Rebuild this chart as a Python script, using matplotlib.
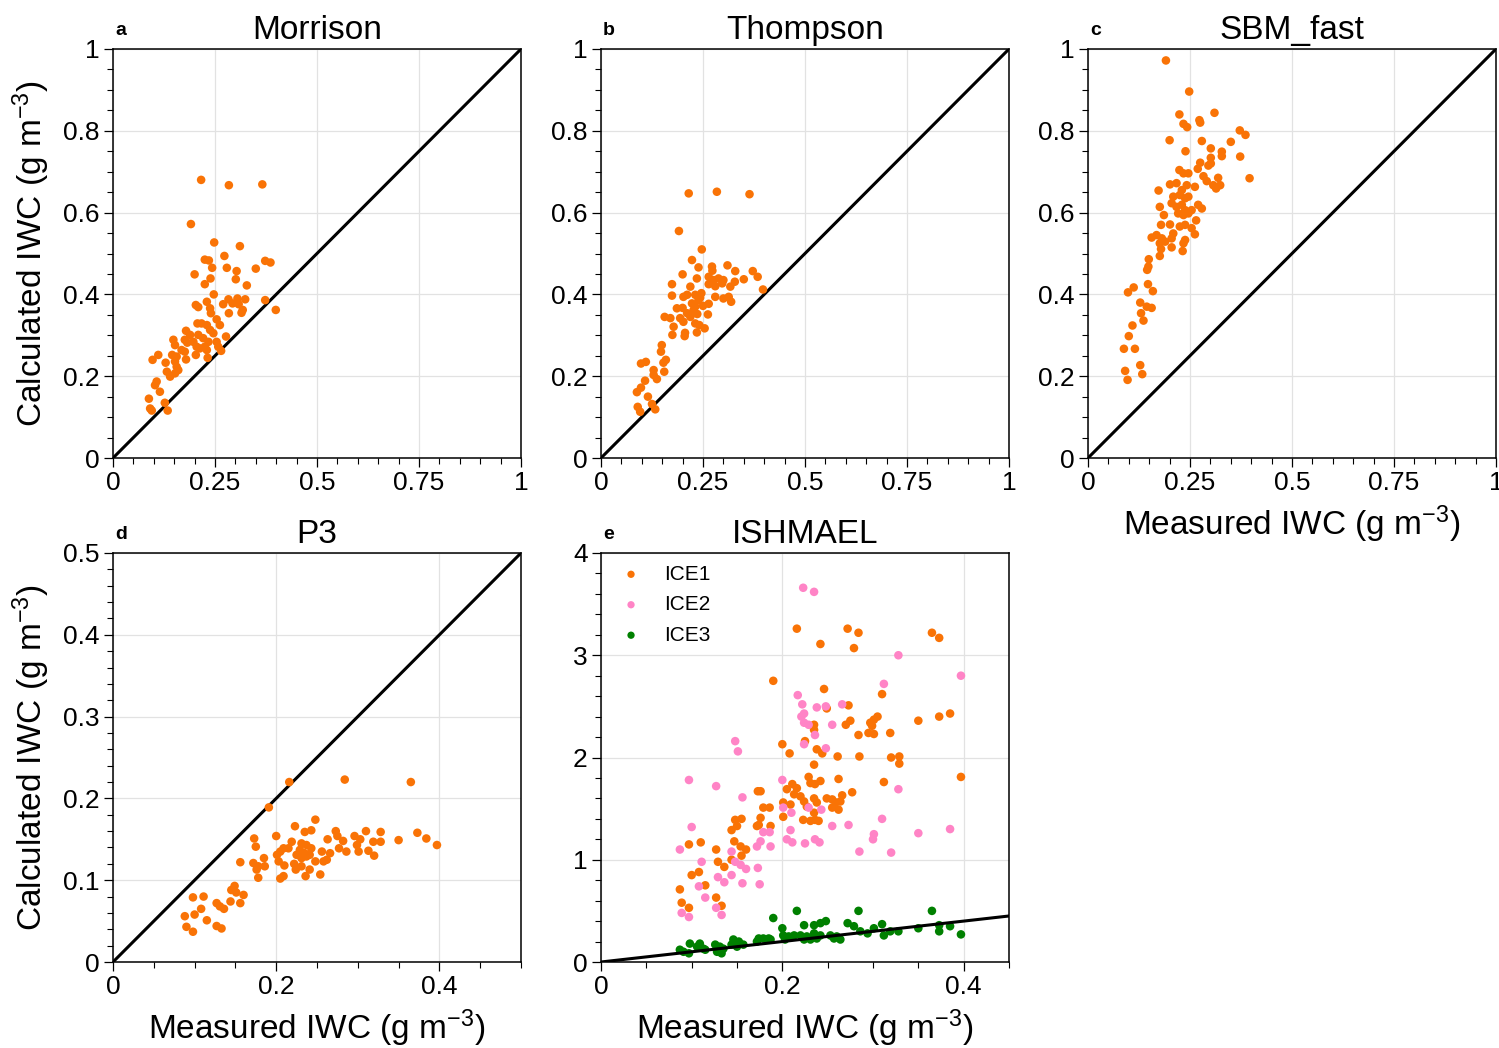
"""
Calculated vs measured ice water content for five microphysics schemes
"""
import matplotlib
matplotlib.use("Agg")
import matplotlib.pyplot as plt
from matplotlib.ticker import MultipleLocator, FuncFormatter

plt.rcParams['font.family'] = ['Liberation Sans', 'DejaVu Sans']
plt.rcParams['mathtext.fontset'] = 'custom'
plt.rcParams['mathtext.rm'] = 'Liberation Sans'
plt.rcParams['mathtext.it'] = 'Liberation Sans:italic'

ORANGE = '#f97306'
PINK = '#ff84c6'
GREEN = '#008000'

# --- Morrison ---
mor_x = [0.216, 0.284, 0.366, 0.191, 0.248, 0.311, 0.273, 0.225, 0.235, 0.243,
         0.279, 0.303, 0.350, 0.373, 0.386, 0.200, 0.239, 0.225, 0.301, 0.328,
         0.247, 0.203, 0.209, 0.230, 0.270, 0.283, 0.305, 0.324, 0.293, 0.308,
         0.284, 0.315, 0.373, 0.399, 0.238, 0.240, 0.254, 0.262, 0.207, 0.217,
         0.230, 0.238, 0.246, 0.179, 0.189, 0.209, 0.221, 0.277, 0.254, 0.258,
         0.234, 0.225, 0.230, 0.148, 0.152, 0.176, 0.182, 0.197, 0.205, 0.213,
         0.168, 0.176, 0.145, 0.156, 0.203, 0.179, 0.265, 0.232, 0.097, 0.111,
         0.129, 0.152, 0.156, 0.160, 0.152, 0.132, 0.140, 0.103, 0.107, 0.115,
         0.088, 0.091, 0.095, 0.127, 0.134, 0.318]
mor_y = [0.680, 0.667, 0.669, 0.572, 0.527, 0.518, 0.494, 0.485, 0.483, 0.465,
         0.465, 0.457, 0.463, 0.482, 0.478, 0.449, 0.439, 0.425, 0.437, 0.422,
         0.400, 0.374, 0.369, 0.382, 0.376, 0.388, 0.390, 0.388, 0.378, 0.376,
         0.354, 0.355, 0.386, 0.362, 0.366, 0.354, 0.339, 0.325, 0.329, 0.329,
         0.325, 0.313, 0.305, 0.311, 0.301, 0.301, 0.293, 0.297, 0.284, 0.272,
         0.284, 0.272, 0.264, 0.289, 0.276, 0.289, 0.282, 0.284, 0.272, 0.268,
         0.264, 0.260, 0.252, 0.248, 0.252, 0.241, 0.262, 0.245, 0.240, 0.252,
         0.233, 0.236, 0.223, 0.215, 0.207, 0.211, 0.199, 0.178, 0.187, 0.162,
         0.145, 0.121, 0.116, 0.135, 0.116, 0.362]

# --- Thompson ---
tho_x = [0.215, 0.284, 0.364, 0.191, 0.247, 0.223, 0.239, 0.272, 0.273, 0.310,
         0.329, 0.372, 0.384, 0.200, 0.235, 0.264, 0.276, 0.288, 0.300, 0.350,
         0.328, 0.174, 0.264, 0.280, 0.297, 0.317, 0.219, 0.397, 0.174, 0.202,
         0.211, 0.231, 0.246, 0.239, 0.280, 0.300, 0.313, 0.319, 0.264, 0.223,
         0.231, 0.227, 0.186, 0.200, 0.211, 0.219, 0.262, 0.156, 0.170, 0.194,
         0.202, 0.231, 0.241, 0.254, 0.178, 0.175, 0.206, 0.205, 0.235, 0.149,
         0.147, 0.159, 0.153, 0.098, 0.110, 0.129, 0.155, 0.137, 0.129, 0.108,
         0.098, 0.088, 0.115, 0.090, 0.096, 0.133, 0.125, 0.243, 0.250, 0.236]
tho_y = [0.647, 0.651, 0.645, 0.555, 0.510, 0.484, 0.466, 0.468, 0.458, 0.471,
         0.457, 0.457, 0.443, 0.449, 0.439, 0.443, 0.435, 0.439, 0.435, 0.437,
         0.431, 0.425, 0.425, 0.420, 0.427, 0.419, 0.419, 0.412, 0.397, 0.394,
         0.399, 0.399, 0.403, 0.386, 0.394, 0.390, 0.394, 0.382, 0.377, 0.378,
         0.370, 0.362, 0.366, 0.367, 0.354, 0.345, 0.351, 0.345, 0.342, 0.342,
         0.333, 0.329, 0.325, 0.317, 0.321, 0.301, 0.306, 0.298, 0.307, 0.276,
         0.260, 0.240, 0.233, 0.231, 0.235, 0.215, 0.211, 0.193, 0.203, 0.189,
         0.172, 0.161, 0.150, 0.125, 0.113, 0.119, 0.132, 0.392, 0.372, 0.352]

# --- SBM_fast ---
sbm_x = [0.191, 0.248, 0.224, 0.310, 0.273, 0.275, 0.234, 0.243, 0.372, 0.386,
         0.200, 0.279, 0.350, 0.301, 0.239, 0.328, 0.328, 0.373, 0.301, 0.301,
         0.295, 0.275, 0.269, 0.224, 0.234, 0.246, 0.396, 0.283, 0.291, 0.307,
         0.314, 0.319, 0.324, 0.201, 0.217, 0.242, 0.262, 0.173, 0.230, 0.225,
         0.209, 0.238, 0.246, 0.205, 0.217, 0.230, 0.238, 0.221, 0.234, 0.246,
         0.176, 0.270, 0.279, 0.254, 0.186, 0.265, 0.179, 0.201, 0.225, 0.238,
         0.254, 0.262, 0.156, 0.168, 0.181, 0.209, 0.205, 0.176, 0.189, 0.238,
         0.234, 0.205, 0.179, 0.232, 0.176, 0.149, 0.145, 0.148, 0.098, 0.112,
         0.147, 0.159, 0.128, 0.144, 0.156, 0.130, 0.136, 0.109, 0.100, 0.088,
         0.115, 0.128, 0.091, 0.097, 0.133]
sbm_y = [0.972, 0.896, 0.840, 0.844, 0.826, 0.820, 0.817, 0.809, 0.801, 0.790,
         0.777, 0.775, 0.773, 0.757, 0.750, 0.749, 0.738, 0.737, 0.734, 0.720,
         0.715, 0.722, 0.707, 0.704, 0.696, 0.696, 0.684, 0.689, 0.677, 0.667,
         0.659, 0.685, 0.667, 0.669, 0.672, 0.667, 0.663, 0.654, 0.655, 0.643,
         0.639, 0.635, 0.639, 0.623, 0.614, 0.619, 0.606, 0.598, 0.594, 0.598,
         0.614, 0.619, 0.610, 0.606, 0.594, 0.581, 0.570, 0.571, 0.566, 0.570,
         0.562, 0.547, 0.539, 0.545, 0.537, 0.549, 0.537, 0.525, 0.529, 0.533,
         0.525, 0.515, 0.511, 0.506, 0.494, 0.486, 0.460, 0.468, 0.405, 0.417,
         0.425, 0.408, 0.380, 0.370, 0.367, 0.354, 0.336, 0.324, 0.298, 0.267,
         0.267, 0.227, 0.213, 0.191, 0.205]

# --- P3 ---
p3_x = [0.216, 0.284, 0.365, 0.191, 0.248, 0.223, 0.235, 0.243, 0.200, 0.173,
        0.175, 0.273, 0.275, 0.282, 0.263, 0.296, 0.303, 0.299, 0.310, 0.328,
        0.328, 0.319, 0.350, 0.373, 0.384, 0.397, 0.219, 0.215, 0.209, 0.205,
        0.231, 0.237, 0.243, 0.229, 0.235, 0.241, 0.225, 0.231, 0.237, 0.256,
        0.266, 0.262, 0.258, 0.277, 0.286, 0.301, 0.313, 0.320, 0.201, 0.203,
        0.210, 0.222, 0.224, 0.231, 0.241, 0.248, 0.236, 0.254, 0.205, 0.209,
        0.156, 0.172, 0.178, 0.186, 0.185, 0.176, 0.178, 0.149, 0.145, 0.151,
        0.160, 0.144, 0.156, 0.098, 0.111, 0.127, 0.131, 0.136, 0.108, 0.088,
        0.100, 0.115, 0.090, 0.098, 0.127, 0.133]
p3_y = [0.220, 0.223, 0.220, 0.189, 0.174, 0.166, 0.159, 0.161, 0.154, 0.151,
        0.141, 0.160, 0.154, 0.148, 0.150, 0.154, 0.150, 0.143, 0.160, 0.159,
        0.147, 0.147, 0.149, 0.158, 0.151, 0.143, 0.147, 0.139, 0.139, 0.135,
        0.145, 0.143, 0.139, 0.137, 0.133, 0.131, 0.131, 0.127, 0.129, 0.135,
        0.133, 0.125, 0.123, 0.139, 0.135, 0.135, 0.136, 0.130, 0.131, 0.123,
        0.118, 0.120, 0.113, 0.117, 0.113, 0.123, 0.105, 0.107, 0.102, 0.105,
        0.122, 0.121, 0.117, 0.117, 0.127, 0.113, 0.103, 0.093, 0.088, 0.085,
        0.082, 0.074, 0.072, 0.079, 0.080, 0.072, 0.068, 0.065, 0.065, 0.056,
        0.058, 0.051, 0.043, 0.037, 0.044, 0.041]

# --- ISHMAEL: three ice species ---
ice1_x = [0.216, 0.272, 0.284, 0.242, 0.279, 0.365, 0.373, 0.190, 0.246, 0.310,
          0.273, 0.249, 0.235, 0.235, 0.270, 0.275, 0.297, 0.305, 0.301, 0.295,
          0.301, 0.299, 0.284, 0.319, 0.350, 0.373, 0.385, 0.225, 0.200, 0.208,
          0.238, 0.244, 0.261, 0.285, 0.320, 0.329, 0.329, 0.235, 0.397, 0.229,
          0.231, 0.236, 0.242, 0.205, 0.211, 0.216, 0.213, 0.262, 0.312, 0.277,
          0.173, 0.176, 0.220, 0.224, 0.227, 0.235, 0.238, 0.249, 0.255, 0.259,
          0.266, 0.264, 0.255, 0.262, 0.201, 0.209, 0.201, 0.235, 0.236, 0.231,
          0.240, 0.223, 0.179, 0.186, 0.176, 0.174, 0.172, 0.187, 0.155, 0.148,
          0.150, 0.144, 0.097, 0.110, 0.127, 0.144, 0.147, 0.154, 0.160, 0.155,
          0.129, 0.136, 0.100, 0.108, 0.115, 0.087, 0.127, 0.089, 0.097, 0.133]
ice1_y = [3.26, 3.26, 3.22, 3.11, 3.07, 3.22, 3.17, 2.75, 2.67, 2.62,
          2.51, 2.48, 2.32, 2.27, 2.32, 2.36, 2.34, 2.40, 2.37, 2.24,
          2.23, 2.31, 2.22, 2.24, 2.36, 2.40, 2.43, 2.16, 2.13, 2.04,
          2.08, 2.04, 2.01, 2.01, 2.00, 2.01, 1.94, 1.93, 1.81, 1.81,
          1.75, 1.74, 1.77, 1.69, 1.74, 1.70, 1.64, 1.79, 1.76, 1.66,
          1.67, 1.67, 1.62, 1.57, 1.52, 1.60, 1.56, 1.60, 1.59, 1.56,
          1.63, 1.57, 1.51, 1.49, 1.56, 1.54, 1.42, 1.46, 1.39, 1.38,
          1.38, 1.39, 1.51, 1.51, 1.41, 1.34, 1.33, 1.33, 1.40, 1.39,
          1.33, 1.29, 1.15, 1.17, 1.10, 1.00, 1.18, 1.13, 1.10, 1.04,
          0.98, 0.93, 0.85, 0.88, 0.75, 0.71, 0.63, 0.58, 0.53, 0.55]

ice2_x = [0.223, 0.235, 0.328, 0.397, 0.312, 0.217, 0.222, 0.238, 0.248, 0.266,
          0.224, 0.221, 0.224, 0.229, 0.255, 0.236, 0.224, 0.148, 0.151, 0.248,
          0.097, 0.127, 0.200, 0.328, 0.156, 0.201, 0.210, 0.229, 0.243, 0.100,
          0.310, 0.255, 0.273, 0.350, 0.385, 0.301, 0.179, 0.186, 0.209, 0.205,
          0.211, 0.225, 0.236, 0.241, 0.300, 0.285, 0.320, 0.087, 0.144, 0.148,
          0.172, 0.176, 0.187, 0.111, 0.154, 0.160, 0.173, 0.129, 0.136, 0.144,
          0.156, 0.175, 0.108, 0.115, 0.127, 0.089, 0.097, 0.133]
ice2_y = [3.66, 3.62, 3.00, 2.80, 2.72, 2.61, 2.52, 2.49, 2.50, 2.52,
          2.43, 2.40, 2.34, 2.32, 2.32, 2.22, 2.13, 2.16, 2.06, 2.09,
          1.78, 1.72, 1.78, 1.69, 1.61, 1.51, 1.46, 1.51, 1.49, 1.32,
          1.40, 1.33, 1.34, 1.26, 1.30, 1.25, 1.27, 1.27, 1.29, 1.20,
          1.17, 1.16, 1.20, 1.17, 1.20, 1.08, 1.07, 1.10, 1.08, 0.98,
          1.13, 1.18, 1.13, 0.98, 0.95, 0.91, 0.92, 0.83, 0.78, 0.85,
          0.77, 0.76, 0.74, 0.63, 0.53, 0.48, 0.44, 0.46]

ice3_x = [0.216, 0.284, 0.365, 0.190, 0.200, 0.224, 0.235, 0.242, 0.248, 0.272,
          0.279, 0.310, 0.301, 0.350, 0.373, 0.373, 0.385, 0.397, 0.319, 0.328,
          0.312, 0.294, 0.286, 0.253, 0.260, 0.264, 0.257, 0.220, 0.227, 0.235,
          0.238, 0.231, 0.242, 0.224, 0.201, 0.207, 0.213, 0.203, 0.174, 0.179,
          0.185, 0.172, 0.187, 0.146, 0.152, 0.144, 0.157, 0.150, 0.126, 0.131,
          0.128, 0.133, 0.135, 0.098, 0.109, 0.106, 0.113, 0.115, 0.087, 0.097,
          0.091]
ice3_y = [0.50, 0.50, 0.50, 0.43, 0.33, 0.36, 0.36, 0.38, 0.40, 0.38,
          0.35, 0.37, 0.33, 0.33, 0.36, 0.30, 0.35, 0.27, 0.30, 0.30,
          0.26, 0.28, 0.30, 0.26, 0.25, 0.22, 0.23, 0.26, 0.25, 0.28,
          0.23, 0.22, 0.26, 0.22, 0.26, 0.25, 0.26, 0.22, 0.23, 0.23,
          0.23, 0.20, 0.22, 0.22, 0.20, 0.17, 0.17, 0.15, 0.17, 0.15,
          0.10, 0.085, 0.13, 0.18, 0.18, 0.15, 0.13, 0.12, 0.12, 0.085,
          0.10]

XLABEL = r'Measured IWC (g m$^{-3}$)'
YLABEL = r'Calculated IWC (g m$^{-3}$)'


def fmt(v, pos):
    s = f'{v:.2f}'.rstrip('0').rstrip('.')
    return s


def style_axes(ax, xmax, ymax, xmajor, xminor, ymajor, yminor, letter, title):
    ax.set_xlim(0, xmax)
    ax.set_ylim(0, ymax)
    ax.xaxis.set_major_locator(MultipleLocator(xmajor))
    ax.xaxis.set_minor_locator(MultipleLocator(xminor))
    ax.yaxis.set_major_locator(MultipleLocator(ymajor))
    ax.yaxis.set_minor_locator(MultipleLocator(yminor))
    ax.xaxis.set_major_formatter(FuncFormatter(fmt))
    ax.yaxis.set_major_formatter(FuncFormatter(fmt))
    ax.tick_params(which='major', length=6.5, width=0.9, labelsize=19,
                   direction='out', pad=3)
    ax.tick_params(which='minor', length=4, width=0.8, direction='out')
    ax.tick_params(top=False, right=False)
    ax.grid(True, which='major', color='#e2e2e2', lw=0.9)
    ax.set_axisbelow(True)
    for sp in ax.spines.values():
        sp.set_linewidth(1.1)
    ax.set_title(title, fontsize=24, pad=7)
    ax.text(0.005, 1.025, letter, transform=ax.transAxes, fontsize=14,
            fontweight='bold', ha='left', va='bottom')


fig = plt.figure(figsize=(14.99, 10.48), dpi=100)

W, H = 1499, 1048
aw, ah = 408 / W, 409 / H
lefts = [113 / W, 601 / W, 1088 / W]
top_row = 1 - 458 / H
bot_row = 1 - 962 / H

ax_a = fig.add_axes([lefts[0], top_row, aw, ah])
ax_b = fig.add_axes([lefts[1], top_row, aw, ah])
ax_c = fig.add_axes([lefts[2], top_row, aw, ah])
ax_d = fig.add_axes([lefts[0], bot_row, aw, ah])
ax_e = fig.add_axes([lefts[1], bot_row, aw, ah])

panels = [
    (ax_a, mor_x, mor_y, 'a', 'Morrison'),
    (ax_b, tho_x, tho_y, 'b', 'Thompson'),
    (ax_c, sbm_x, sbm_y, 'c', 'SBM_fast'),
]
for ax, xs, ys, letter, title in panels:
    style_axes(ax, 1, 1, 0.25, 0.05, 0.2, 0.05, letter, title)
    ax.plot([0, 1], [0, 1], color='k', lw=2.2, zorder=2)
    ax.scatter(xs, ys, s=38, color=ORANGE, edgecolors='none', zorder=3)

# P3
style_axes(ax_d, 0.5, 0.5, 0.2, 0.05, 0.1, 0.02, 'd', 'P3')
ax_d.plot([0, 0.5], [0, 0.5], color='k', lw=2.2, zorder=2)
ax_d.scatter(p3_x, p3_y, s=38, color=ORANGE, edgecolors='none', zorder=3)

# ISHMAEL
style_axes(ax_e, 0.45, 4, 0.2, 0.05, 1, 0.2, 'e', 'ISHMAEL')
ax_e.plot([0, 0.45], [0, 0.45], color='k', lw=2.2, zorder=4)
ax_e.scatter(ice1_x, ice1_y, s=38, color=ORANGE, edgecolors='none', zorder=3, label='ICE1')
ax_e.scatter(ice2_x, ice2_y, s=38, color=PINK, edgecolors='none', zorder=3, label='ICE2')
ax_e.scatter(ice3_x, ice3_y, s=38, color=GREEN, edgecolors='none', zorder=3, label='ICE3')
ax_e.legend(loc='upper left', frameon=False, fontsize=15, handlelength=1.4,
            handletextpad=0.9, borderaxespad=0.4, labelspacing=0.55,
            markerscale=0.85, bbox_to_anchor=(-0.003, 1.012))

ax_a.set_ylabel(YLABEL, fontsize=24, labelpad=8)
ax_d.set_ylabel(YLABEL, fontsize=24, labelpad=8)
ax_c.set_xlabel(XLABEL, fontsize=24, labelpad=6)
ax_d.set_xlabel(XLABEL, fontsize=24, labelpad=6)
ax_e.set_xlabel(XLABEL, fontsize=24, labelpad=6)

fig.savefig('out.png', dpi=100)
